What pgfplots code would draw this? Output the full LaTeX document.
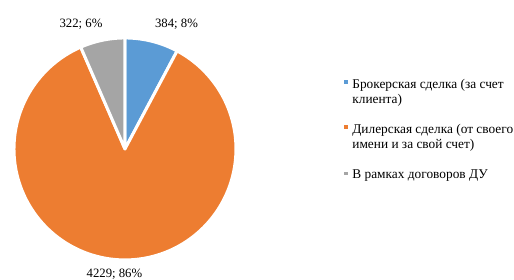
\documentclass[border=0pt]{standalone}
\usepackage{pgfplots}
\pgfplotsset{compat=1.18}
\usepackage{fontspec}
\setmainfont{Liberation Serif}
\newfontfamily\tnr{Liberation Serif}
\definecolor{sblue}{HTML}{5B9BD5}
\definecolor{sorange}{HTML}{ED7D31}
\definecolor{sgray}{HTML}{A5A5A5}
% data
\def\va{384}
\def\vb{4229}
\def\vc{322}
\pgfmathsetmacro{\tot}{\va+\vb+\vc}
\pgfmathsetmacro{\aA}{90}
\pgfmathsetmacro{\aB}{90-360*(\va/\tot)}
\pgfmathsetmacro{\aC}{\aB-360*(\vb/\tot)}
\pgfmathsetmacro{\aD}{\aC-360*(\vc/\tot)}
\tikzset{lbl/.style={inner sep=0pt, font=\tnr\fontsize{12.8}{15.4}\selectfont},
         leg/.style={inner sep=0pt, font=\tnr\fontsize{13.4}{15}\selectfont}}
\begin{document}
\begin{tikzpicture}
\begin{axis}[
  x=111bp, y=111bp,
  scale only axis,
  xmin=-1.126, xmax=3.505,
  ymin=-1.180, ymax=1.342,
  hide axis, clip=false,
]
\addplot[fill=sblue, draw=white, line width=3bp, line join=round, domain=\aB:\aA, samples=60, variable=\t]
  ({cos(\t)},{sin(\t)}) -- (axis cs:0,0) -- cycle;
\addplot[fill=sorange, draw=white, line width=3bp, line join=round, domain=\aC:\aB, samples=200, variable=\t]
  ({cos(\t)},{sin(\t)}) -- (axis cs:0,0) -- cycle;
\addplot[fill=sgray, draw=white, line width=3bp, line join=round, domain=\aD:\aC, samples=60, variable=\t]
  ({cos(\t)},{sin(\t)}) -- (axis cs:0,0) -- cycle;
% data labels
\node[lbl, anchor=base] at (axis cs:0.464,1.095) {384; 8\%};
\node[lbl, anchor=base] at (axis cs:-0.396,1.095) {322; 6\%};
\node[lbl, anchor=base] at (axis cs:-0.095,-1.162) {4229; 86\%};
% legend
\addplot[only marks, mark=square*, mark size=1.2bp, color=sblue] coordinates {(1.988,0.606)};
\addplot[only marks, mark=square*, mark size=1.2bp, color=sorange] coordinates {(1.988,0.201)};
\addplot[only marks, mark=square*, mark size=1.2bp, color=sgray] coordinates {(1.988,-0.219)};
\node[leg, anchor=base west] at (axis cs:2.047,0.545) {Брокерская сделка (за счет};
\node[leg, anchor=base west] at (axis cs:2.047,0.410) {клиента)};
\node[leg, anchor=base west] at (axis cs:2.047,0.140) {Дилерская сделка (от своего};
\node[leg, anchor=base west] at (axis cs:2.047,0.0045) {имени и за свой счет)};
\node[leg, anchor=base west] at (axis cs:2.047,-0.266) {В рамках договоров ДУ};
\end{axis}
\pgfresetboundingbox
\path[use as bounding box] (current axis.south west) rectangle (current axis.north east);
\end{tikzpicture}
\end{document}
